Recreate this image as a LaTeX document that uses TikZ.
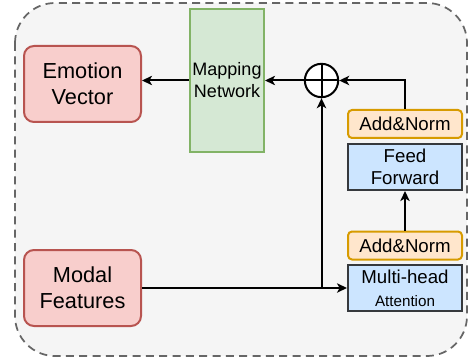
\documentclass[tikz,border=0pt]{standalone}
\usepackage{fontspec}
\setmainfont{Liberation Sans}
\usetikzlibrary{arrows.meta,positioning}
\definecolor{dmred}{HTML}{F8CECC}
\definecolor{dmreddk}{HTML}{B85450}
\definecolor{dmgreen}{HTML}{D5E8D4}
\definecolor{dmgreendk}{HTML}{82B366}
\definecolor{dmorange}{HTML}{FFE6CC}
\definecolor{dmorangedk}{HTML}{D79B00}
\definecolor{dmblue}{HTML}{CCE5FF}
\definecolor{dmbluedk}{HTML}{36393D}
\definecolor{dmgray}{HTML}{F5F5F5}
\definecolor{dmgraydk}{HTML}{666666}

\begin{document}
\begin{tikzpicture}[x=0.75pt, y=-0.75pt,
  featbox/.style={draw=dmreddk, fill=dmred, line width=1.5pt, rounded corners=7.5pt,
    minimum width=87.75pt, minimum height=57pt, align=center, font=\fontsize{16.3}{19.5}\selectfont},
  normbox/.style={draw=dmorangedk, fill=dmorange, line width=1.5pt, rounded corners=3pt,
    minimum width=85.5pt, minimum height=21pt, font=\fontsize{14}{16.5}\selectfont},
  blockbox/.style={draw=dmbluedk, fill=dmblue, line width=1.5pt,
    minimum width=85.5pt, minimum height=34.5pt, align=center, inner sep=1pt, font=\fontsize{14}{16.5}\selectfont},
  conn/.style={line width=1.5pt, -{Stealth[length=7.5pt, width=7pt, inset=2pt]}}
]
\useasboundingbox (0,0) rectangle (470,363);
% Outer dashed frame
\draw[dmgraydk, fill=dmgray, line width=1.3pt, dash pattern=on 6pt off 4pt, rounded corners=30pt]
  (15,3) rectangle (467,356);
% Left side: inputs and outputs
\node[featbox] (emovec) at (82.5,84) {Emotion\\Vector};
\node[featbox] (modfeat) at (82.5,288) {Modal\\Features};
\node[draw=dmgreendk, fill=dmgreen, line width=1.5pt, minimum width=55.5pt, minimum height=107.25pt,
  align=center, inner sep=0pt, font=\fontsize{13.5}{16.5}\selectfont] (mapnet) at (227,80.5) {Mapping\\Network};
% Sum node
\node[draw, circle, line width=1.5pt, fill=white, minimum size=25pt, inner sep=0pt,
  path picture={\draw[line width=1.5pt] (path picture bounding box.north) -- (path picture bounding box.south)
    (path picture bounding box.west) -- (path picture bounding box.east);}] (sum) at (321.5,80.5) {};
% Right side: attention block
\node[normbox] (addnormtop) at (405,124) {Add\&Norm};
\node[blockbox] (feedfwd) at (405,167) {Feed\\Forward};
\node[normbox] (addnormbot) at (405,245.5) {Add\&Norm};
\node[blockbox] (mhatt) at (405,288) {Multi-head\\[1pt]{\fontsize{11.4}{13}\selectfont Attention}};
% Connectors
\coordinate (branch) at (sum.south |- modfeat.east);
\draw[conn] (modfeat.east) -- (mhatt.west);
\draw[conn] (branch) -- (sum.south);
\draw[conn] (addnormbot.north) -- (feedfwd.south);
\draw[conn] (addnormtop.north) |- (sum.east);
\draw[conn] (sum.west) -- (mapnet.east |- sum.west);
\draw[conn] (mapnet.west |- sum.west) -- (emovec.east |- sum.west);
\end{tikzpicture}
\end{document}
